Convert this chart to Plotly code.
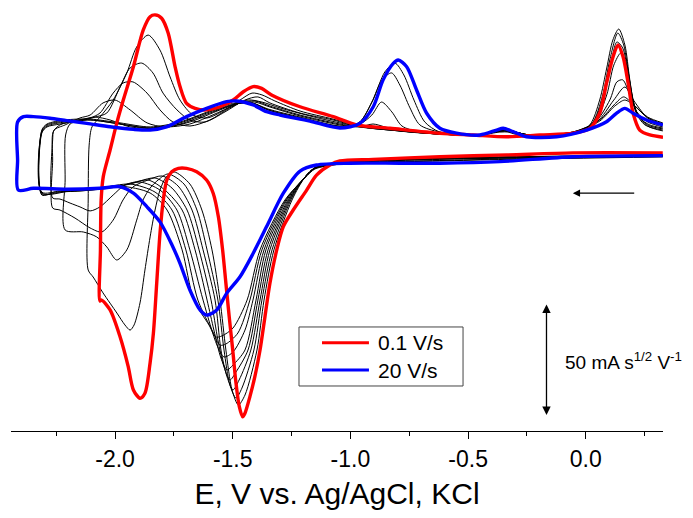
import plotly.graph_objects as go

# ---------------- data: potential E (V vs Ag/AgCl) and normalised current I (mA s^1/2 V^-1) ----------------
red_E = [0.327, -0.055, -0.335, -0.620, -0.904, -1.045, -1.087, -1.144, -1.186, -1.243, -1.285, -1.313, -1.342,
         -1.363, -1.384, -1.406, -1.427, -1.448, -1.458, -1.472, -1.486, -1.500, -1.515, -1.529, -1.543, -1.561,
         -1.583, -1.611, -1.653, -1.696, -1.731, -1.759, -1.780, -1.795, -1.809, -1.823, -1.837, -1.851, -1.873,
         -1.894, -1.922, -1.944, -1.979, -2.021, -2.057, -2.064,
         -2.062, -2.059, -2.050, -2.021, -1.993, -1.965, -1.922, -1.880, -1.851, -1.830, -1.802, -1.774, -1.745,
         -1.724, -1.696, -1.660, -1.611, -1.554, -1.498, -1.455, -1.413, -1.377, -1.335, -1.214, -1.073, -0.974,
         -0.832, -0.620, -0.480, -0.337, -0.195, -0.054, 0.017, 0.059, 0.088, 0.116, 0.137, 0.158, 0.180, 0.201,
         0.229, 0.272, 0.328]
red_I = [-1.3, -1.3, -2.2, -3.0, -4.2, -4.9, -6.7, -11.2, -17.9, -26.8, -34.2, -44.6, -59.5,
         -74.4, -89.3, -101.2, -110.1, -117.5, -119.1, -114.6, -104.2, -89.3, -74.4, -59.5, -44.6, -29.8,
         -19.3, -13.4, -9.7, -8.2, -8.2, -9.7, -13.4, -22.3, -37.2, -59.5, -81.8, -95.0, -108.6,
         -110.8, -107.1, -96.7, -83.3, -71.4, -67.0, -67.4,
         -44.6, -22.3, -11.9, 0.0, 11.9, 22.3, 37.2, 53.6, 59.5, 60.3, 58.8, 52.1, 37.2,
         28.3, 20.8, 18.6, 17.9, 19.3, 22.3, 26.0, 28.3, 27.5, 24.6, 19.3, 14.9, 11.2,
         9.7, 7.5, 6.7, 5.9, 6.7, 7.5, 9.7, 16.4, 29.8, 41.7, 46.9, 41.7, 29.8, 16.4,
         8.9, 6.7, 5.7]

blue_E = [0.327, -0.055, -0.365, -0.620, -0.790, -1.002, -1.144, -1.214, -1.285, -1.356, -1.413, -1.469, -1.526,
          -1.568, -1.611, -1.639, -1.682, -1.724, -1.758, -1.809, -1.865, -1.922, -1.979, -2.064, -2.205, -2.347,
          -2.411,
          -2.414, -2.414, -2.389, -2.347, -2.276, -2.205, -2.120, -2.021, -1.922, -1.851, -1.781, -1.696, -1.611,
          -1.526, -1.483, -1.413, -1.356, -1.299, -1.172, -1.045, -0.960, -0.903, -0.861, -0.818, -0.797, -0.761,
          -0.719, -0.676, -0.620, -0.549, -0.450, -0.379, -0.351, -0.309, -0.252, -0.124, 0.003, 0.088, 0.130,
          0.166, 0.201, 0.258, 0.328]
blue_I = [-2.5, -3.0, -5.2, -5.9, -5.9, -5.9, -6.7, -9.4, -19.3, -34.2, -46.1, -56.6, -64.0,
          -71.4, -73.7, -71.4, -62.5, -50.6, -42.4, -32.1, -25.3, -19.3, -16.4, -17.1, -17.5, -17.1,
          -17.9,
          -4.5, 12.5, 14.9, 14.9, 14.2, 13.1, 11.9, 10.4, 9.2, 8.9, 10.3, 14.9, 18.6,
          21.6, 21.9, 20.1, 17.1, 15.6, 12.9, 9.8, 11.9, 19.3, 31.3, 38.7, 40.2, 37.2,
          26.8, 16.4, 9.7, 7.5, 6.7, 8.9, 9.7, 8.2, 5.9, 5.9, 8.9, 12.6, 16.4,
          18.6, 16.4, 13.4, 11.2]

# intermediate scan rates (black), from slowest (k1) to fastest (k8)
k1_E = [0.327, -0.335, -0.620, -0.904, -1.045, -1.151, -1.193, -1.248, -1.325, -1.367, -1.397, -1.448, -1.476,
        -1.503, -1.529, -1.554, -1.588, -1.631, -1.682, -1.749, -1.783, -1.809, -1.830, -1.851, -1.873, -1.894,
        -1.919, -1.936, -1.958, -1.992, -2.051, -2.093, -2.114,
        -2.114, -2.110, -2.098, -2.064, -2.008, -1.950, -1.908, -1.859, -1.809, -1.766, -1.724, -1.669, -1.609,
        -1.533, -1.469, -1.418, -1.376, -1.321, -1.214, -1.074, -0.960, -0.832, -0.620, -0.450, -0.378, -0.352,
        -0.301, -0.055, 0.017, 0.059, 0.089, 0.115, 0.140, 0.166, 0.187, 0.212, 0.251, 0.327]
k1_I = [-2.2, -3.1, -3.6, -4.5, -5.4, -8.0, -12.1, -22.3, -44.6, -67.0, -89.3, -109.4, -113.8,
        -107.1, -89.3, -67.0, -44.6, -26.8, -15.2, -9.8, -12.1, -17.9, -26.8, -38.8, -53.6, -68.3,
        -78.1, -80.4, -78.1, -72.8, -63.8, -56.7, -53.6,
        -22.3, 2.2, 10.3, 14.7, 22.3, 34.4, 46.0, 51.3, 44.6, 32.6, 22.3, 15.6, 14.3,
        17.9, 22.3, 25.4, 24.6, 21.9, 17.4, 13.8, 10.7, 9.4, 7.1, 6.7, 8.5, 8.9,
        7.1, 7.1, 11.2, 22.3, 36.6, 49.1, 54.0, 46.9, 31.3, 17.0, 11.2, 8.9]

k2_E = [0.327, -0.335, -0.620, -0.904, -1.045, -1.151, -1.193, -1.253, -1.333, -1.376, -1.410, -1.461, -1.486,
        -1.512, -1.537, -1.563, -1.609, -1.652, -1.707, -1.775, -1.817, -1.851, -1.881, -1.908, -1.950, -1.993,
        -2.035, -2.078, -2.135, -2.212,
        -2.212, -2.210, -2.191, -2.128, -2.085, -2.035, -1.979, -1.936, -1.887, -1.839, -1.796, -1.737, -1.682,
        -1.618, -1.533, -1.448, -1.393, -1.342, -1.214, -1.074, -0.960, -0.832, -0.620, -0.450, -0.365, -0.323,
        -0.238, -0.055, 0.025, 0.072, 0.102, 0.136, 0.161, 0.187, 0.217, 0.263, 0.327]
k2_I = [-2.2, -3.1, -3.6, -4.5, -5.4, -8.0, -12.1, -22.3, -44.6, -67.0, -89.3, -106.3, -110.7,
        -104.9, -89.3, -67.0, -44.6, -26.8, -15.2, -10.7, -13.4, -17.0, -22.3, -31.3, -44.6, -49.1,
        -43.3, -38.8, -36.6, -35.7,
        -13.4, 6.7, 11.6, 13.4, 14.7, 16.5, 28.1, 36.6, 38.8, 34.4, 25.4, 17.9, 13.4,
        12.5, 17.0, 22.3, 23.7, 21.0, 16.5, 13.4, 10.3, 8.9, 7.1, 6.7, 8.0, 8.0,
        6.3, 7.1, 11.6, 24.6, 40.2, 52.2, 46.9, 30.4, 16.5, 10.7, 8.5]

k3_E = [0.327, -0.335, -0.620, -0.904, -1.045, -1.151, -1.193, -1.257, -1.342, -1.384, -1.423, -1.473, -1.499,
        -1.524, -1.550, -1.575, -1.626, -1.673, -1.732, -1.800, -1.860, -1.924, -1.966, -2.008, -2.057, -2.106,
        -2.170, -2.234, -2.265,
        -2.265, -2.263, -2.234, -2.170, -2.106, -2.064, -2.008, -1.966, -1.924, -1.864, -1.809, -1.754, -1.682,
        -1.597, -1.512, -1.435, -1.376, -1.299, -1.172, -1.045, -0.917, -0.832, -0.620, -0.450, -0.365, -0.323,
        -0.238, -0.055, 0.025, 0.072, 0.102, 0.132, 0.157, 0.187, 0.217, 0.263, 0.327]
k3_I = [-2.5, -3.3, -3.8, -4.7, -5.6, -8.0, -12.1, -22.3, -44.6, -67.0, -89.3, -102.7, -107.1,
        -101.3, -89.3, -67.0, -44.6, -26.8, -16.1, -11.6, -13.4, -16.5, -22.3, -31.3, -36.6, -34.8,
        -30.4, -26.8, -25.9,
        -4.5, 8.0, 11.2, 12.9, 14.3, 16.5, 25.4, 29.9, 30.4, 25.4, 17.9, 12.5, 10.7,
        13.4, 18.8, 22.3, 21.4, 18.8, 15.2, 12.1, 9.8, 8.9, 7.1, 6.7, 8.5, 8.5,
        6.7, 7.6, 11.6, 22.3, 35.7, 48.2, 45.5, 29.0, 16.5, 11.2, 9.4]

k4_E = [0.327, -0.335, -0.620, -0.904, -1.045, -1.151, -1.193, -1.261, -1.350, -1.393, -1.435, -1.486, -1.512,
        -1.537, -1.563, -1.592, -1.643, -1.694, -1.758, -1.830, -1.894, -1.958, -2.008, -2.064, -2.106, -2.149,
        -2.191, -2.234, -2.265,
        -2.265, -2.259, -2.212, -2.149, -2.106, -2.051, -2.000, -1.936, -1.864, -1.788, -1.682, -1.575, -1.469,
        -1.406, -1.342, -1.214, -1.045, -0.917, -0.832, -0.620, -0.450, -0.365, -0.323, -0.238, -0.055, 0.038,
        0.089, 0.119, 0.149, 0.174, 0.200, 0.229, 0.272, 0.327]
k4_I = [-2.5, -3.3, -3.8, -4.7, -5.6, -8.0, -12.1, -22.3, -44.6, -67.0, -89.3, -99.1, -102.7,
        -96.9, -84.8, -67.0, -44.6, -26.8, -17.0, -12.5, -13.8, -15.6, -20.1, -25.4, -27.2, -25.4,
        -23.7, -21.9, -21.4,
        4.5, 8.9, 11.2, 14.3, 15.6, 21.0, 22.3, 17.9, 12.1, 10.3, 11.6, 16.1, 21.0,
        21.9, 19.6, 15.6, 11.6, 9.8, 8.9, 7.1, 6.7, 8.5, 8.5, 6.7, 7.6, 12.5,
        24.6, 37.9, 43.3, 37.9, 22.3, 14.3, 11.2, 9.8]

k5_E = [0.327, -0.335, -0.620, -0.904, -1.045, -1.151, -1.193, -1.265, -1.359, -1.401, -1.448, -1.499, -1.524,
        -1.550, -1.580, -1.609, -1.660, -1.715, -1.788, -1.860, -1.936, -2.021, -2.149, -2.255, -2.311,
        -2.311, -2.289, -2.234, -2.149, -2.085, -2.021, -1.936, -1.809, -1.682, -1.554, -1.469, -1.406, -1.342,
        -1.214, -1.045, -0.960, -0.904, -0.854, -0.790, -0.620, -0.450, -0.365, -0.323, -0.238, -0.055, 0.038,
        0.102, 0.132, 0.157, 0.187, 0.217, 0.263, 0.327]
k5_I = [-2.7, -3.6, -4.0, -4.9, -5.8, -8.0, -12.1, -22.3, -44.6, -67.0, -89.3, -96.0, -98.2,
        -92.9, -80.4, -67.0, -44.6, -26.8, -17.9, -13.4, -15.2, -17.0, -18.3, -18.8, -20.1,
        7.6, 10.3, 11.6, 13.4, 14.7, 13.4, 10.3, 9.8, 12.5, 17.9, 21.0, 21.4, 19.2,
        15.2, 11.2, 10.3, 11.6, 10.3, 8.5, 7.1, 6.7, 8.5, 8.5, 6.7, 7.6, 12.1,
        22.3, 30.4, 31.3, 24.6, 17.0, 12.5, 10.3]

k6_E = [0.327, -0.335, -0.620, -0.904, -1.045, -1.151, -1.193, -1.270, -1.367, -1.414, -1.448, -1.499, -1.537,
        -1.567, -1.626, -1.682, -1.737, -1.809, -1.894, -1.979, -2.106, -2.234, -2.311,
        -2.311, -2.289, -2.212, -2.106, -1.979, -1.851, -1.724, -1.597, -1.490, -1.418, -1.350, -1.214, -1.045,
        -0.960, -0.909, -0.868, -0.824, -0.781, -0.705, -0.620, -0.450, -0.365, -0.323, -0.238, -0.055, 0.047,
        0.119, 0.166, 0.208, 0.263, 0.327]
k6_I = [-2.7, -3.6, -4.2, -5.1, -6.0, -8.0, -12.1, -22.3, -44.6, -67.0, -80.4, -90.2, -92.4,
        -87.1, -67.0, -44.6, -26.8, -17.9, -14.3, -16.1, -17.9, -18.8, -19.6,
        8.0, 10.7, 12.5, 13.4, 11.6, 9.8, 11.6, 16.5, 20.5, 21.0, 18.3, 14.7, 10.7,
        11.6, 15.6, 21.4, 17.0, 10.7, 8.0, 7.1, 6.7, 8.5, 8.5, 6.7, 8.0, 12.5,
        22.3, 28.1, 21.4, 14.3, 11.6]

k7_E = [0.327, -0.335, -0.620, -0.904, -1.045, -1.151, -1.193, -1.274, -1.376, -1.427, -1.478, -1.529, -1.554,
        -1.584, -1.648, -1.699, -1.758, -1.830, -1.936, -2.064, -2.191, -2.311,
        -2.311, -2.289, -2.212, -2.106, -1.979, -1.851, -1.724, -1.597, -1.490, -1.418, -1.350, -1.214, -1.023,
        -0.960, -0.909, -0.866, -0.825, -0.790, -0.747, -0.705, -0.620, -0.450, -0.365, -0.323, -0.238, -0.055,
        0.059, 0.123, 0.161, 0.200, 0.263, 0.327]
k7_I = [-2.9, -4.0, -4.7, -5.4, -6.3, -8.3, -12.1, -22.3, -44.6, -67.0, -81.7, -86.6, -87.1,
        -81.3, -67.0, -44.6, -26.8, -18.8, -15.2, -17.0, -18.3, -19.2,
        8.5, 11.2, 12.9, 13.4, 11.6, 9.8, 12.1, 17.0, 20.5, 21.0, 17.9, 14.3, 10.3,
        12.5, 21.4, 31.3, 34.4, 29.0, 18.8, 11.2, 8.0, 6.7, 8.5, 8.5, 6.7, 8.0,
        13.4, 20.5, 23.7, 20.5, 14.7, 12.1]

k8_E = [0.327, -0.335, -0.620, -0.904, -1.045, -1.151, -1.193, -1.278, -1.384, -1.439, -1.499, -1.546, -1.571,
        -1.601, -1.665, -1.715, -1.779, -1.851, -1.979, -2.106, -2.234, -2.311,
        -2.311, -2.289, -2.212, -2.106, -1.979, -1.851, -1.724, -1.597, -1.490, -1.418, -1.350, -1.214, -1.023,
        -0.960, -0.904, -0.854, -0.811, -0.773, -0.730, -0.684, -0.620, -0.450, -0.365, -0.323, -0.238, -0.055,
        0.059, 0.123, 0.166, 0.208, 0.263, 0.327]
k8_I = [-3.1, -4.2, -4.9, -5.6, -6.3, -8.5, -12.5, -22.3, -44.6, -67.0, -79.5, -83.0, -83.5,
        -78.1, -67.0, -44.6, -26.8, -19.2, -16.1, -17.4, -18.3, -18.8,
        8.9, 11.6, 13.4, 13.8, 12.1, 10.3, 12.5, 17.4, 21.0, 21.0, 17.9, 14.3, 10.3,
        12.5, 22.3, 34.8, 38.8, 33.5, 22.3, 12.5, 8.0, 6.7, 8.5, 8.5, 6.7, 8.0,
        12.9, 19.6, 22.3, 19.6, 14.3, 11.6]

black_curves = [(k1_E, k1_I), (k2_E, k2_I), (k3_E, k3_I), (k4_E, k4_I),
                (k5_E, k5_I), (k6_E, k6_I), (k7_E, k7_I), (k8_E, k8_I)]

legend_labels = ["0.1 V/s", "20 V/s"]
tick_vals = [-2.0, -1.5, -1.0, -0.5, 0.0]
tick_text = ["-2.0", "-1.5", "-1.0", "-0.5", "0.0"]
minor_vals = [-2.25, -1.75, -1.25, -0.75, -0.25, 0.25]

scale_bar_E = -0.167          # position of the 50 mA s^1/2 V^-1 bar
scale_bar_I = [-68.3, -118.3]  # 50 units long
scan_arrow_E = [0.212, -0.055]
scan_arrow_I = -19.3

x_range = [-2.442, 0.328]
y_range = [-125.45, 63.39]

FONT = "Liberation Sans, Arial, Helvetica, sans-serif"

fig = go.Figure()
for E, I in black_curves:
    fig.add_trace(go.Scatter(x=E, y=I, mode="lines", showlegend=False, hoverinfo="skip",
                             line=dict(color="black", width=1.0, shape="spline", smoothing=0.8)))
fig.add_trace(go.Scatter(x=red_E, y=red_I, mode="lines", name=legend_labels[0], showlegend=False,
                         line=dict(color="#ff0000", width=3.4, shape="spline", smoothing=0.8)))
fig.add_trace(go.Scatter(x=blue_E, y=blue_I, mode="lines", name=legend_labels[1], showlegend=False,
                         line=dict(color="#0000ff", width=3.4, shape="spline", smoothing=0.8)))

# hand-drawn legend box (paper coordinates)
fig.add_shape(type="rect", xref="paper", yref="paper", x0=0.4417, x1=0.6933, y0=0.1064, y1=0.2459,
              line=dict(color="#444444", width=1), fillcolor="rgba(0,0,0,0)")
fig.add_shape(type="line", xref="paper", yref="paper", x0=0.477, x1=0.549, y0=0.2087, y1=0.2087,
              line=dict(color="#ff0000", width=3))
fig.add_shape(type="line", xref="paper", yref="paper", x0=0.477, x1=0.549, y0=0.1442, y1=0.1442,
              line=dict(color="#0000ff", width=3))
fig.add_annotation(xref="paper", yref="paper", x=0.5598, y=0.2087, text=legend_labels[0], showarrow=False,
                   xanchor="left", yanchor="middle", font=dict(family=FONT, size=21, color="black"))
fig.add_annotation(xref="paper", yref="paper", x=0.5598, y=0.1442, text=legend_labels[1], showarrow=False,
                   xanchor="left", yanchor="middle", font=dict(family=FONT, size=21, color="black"))

# scale bar (double headed)
fig.add_annotation(x=scale_bar_E, y=scale_bar_I[1], ax=scale_bar_E, ay=scale_bar_I[0],
                   xref="x", yref="y", axref="x", ayref="y", text="", showarrow=True,
                   arrowhead=2, arrowside="end+start", arrowsize=1.3, arrowwidth=1.3, arrowcolor="black")
fig.add_annotation(x=-0.096, y=-94.2, xref="x", yref="y", xanchor="left", yanchor="middle",
                   text="50 mA s<sup>1/2</sup> V<sup>-1</sup>", showarrow=False,
                   font=dict(family=FONT, size=19, color="black"))
# scan direction arrow
fig.add_annotation(x=scan_arrow_E[1], y=scan_arrow_I, ax=scan_arrow_E[0], ay=scan_arrow_I,
                   xref="x", yref="y", axref="x", ayref="y", text="", showarrow=True,
                   arrowhead=2, arrowsize=1.2, arrowwidth=1.2, arrowcolor="black")

# the page adds an 8 px body margin, so the figure is 8 px smaller than the window
fig.update_layout(
    width=685, height=510, autosize=False,
    margin=dict(l=3, r=30, t=0, b=87),
    paper_bgcolor="white", plot_bgcolor="white",
    showlegend=False,
    xaxis=dict(range=x_range, showline=True, linecolor="black", linewidth=1.3, mirror=False,
               ticks="outside", ticklen=7, tickwidth=1.3, tickcolor="black",
               tickvals=tick_vals, ticktext=tick_text, showgrid=False, zeroline=False,
               tickfont=dict(family=FONT, size=23, color="black"),
               minor=dict(tickvals=minor_vals, ticks="outside", ticklen=4, tickwidth=1.3, tickcolor="black"),
               title=dict(text="E, V vs. Ag/AgCl, KCl", standoff=12,
                          font=dict(family=FONT, size=30, color="black"))),
    yaxis=dict(range=y_range, visible=False, showgrid=False, zeroline=False),
)

fig.write_html("out.html")
